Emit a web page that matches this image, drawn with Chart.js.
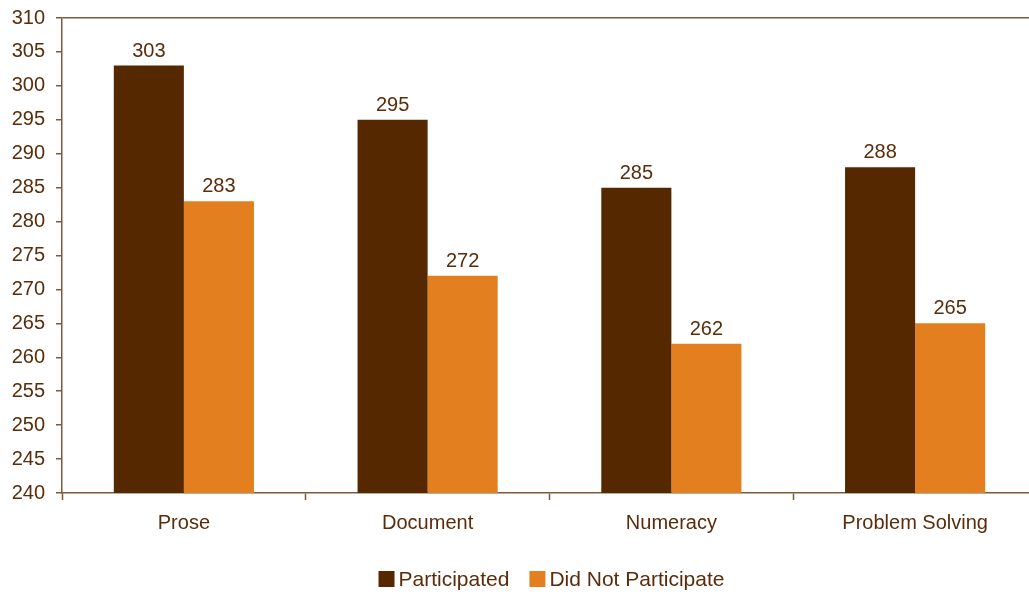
<!DOCTYPE html>
<html lang="en">
<head>
    <meta charset="UTF-8">
    <title>Participation Scores</title>
    <style>
        html, body {
            margin: 0;
            padding: 0;
            background: #fff;
            overflow: hidden;
        }
        .frame {
            width: 1029px;
            height: 595px;
            overflow: hidden;
        }
        /* plot runs a little past the right edge, as in the printed figure */
        .chart-container {
            width: 1037px;
            height: 595px;
            position: relative;
        }
    </style>
    <script src="https://cdn.jsdelivr.net/npm/chart.js"></script>
</head>
<body>
    <div class="frame">
        <div class="chart-container">
            <canvas id="scoreChart"></canvas>
        </div>
    </div>
    <script>
        const categories = ['Prose', 'Document', 'Numeracy', 'Problem Solving'];
        const participated = [303, 295, 285, 288];
        const didNotParticipate = [283, 272, 262, 265];
        const yMin = 240;
        const yMax = 310;
        const yStep = 5;

        const textColor = '#5a2c0a';
        const axisColor = '#7d5a3c';
        const fontFamily = '"Liberation Sans", Arial, sans-serif';

        // writes each bar's value just above it
        const valueLabels = {
            id: 'valueLabels',
            afterDatasetsDraw(chart) {
                const ctx = chart.ctx;
                ctx.save();
                ctx.font = '20px ' + fontFamily;
                ctx.fillStyle = textColor;
                ctx.textAlign = 'center';
                ctx.textBaseline = 'alphabetic';
                chart.data.datasets.forEach((ds, i) => {
                    chart.getDatasetMeta(i).data.forEach((bar, j) => {
                        ctx.fillText(ds.data[j], bar.x, bar.y - 9);
                    });
                });
                ctx.restore();
            }
        };

        // compact legend under the axis, centred on the plot area
        const bottomLegend = {
            id: 'bottomLegend',
            afterDraw(chart) {
                const ctx = chart.ctx;
                const area = chart.chartArea;
                const box = 16, gap = 4, itemGap = 20;
                ctx.save();
                ctx.font = '21px ' + fontFamily;
                ctx.textBaseline = 'middle';
                const items = chart.data.datasets.map(ds => ({
                    label: ds.label,
                    color: ds.backgroundColor,
                    w: box + gap + ctx.measureText(ds.label).width
                }));
                const total = items.reduce((s, it) => s + it.w, 0) + itemGap * (items.length - 1);
                let x = (area.left + area.right) / 2 - total / 2 + 2;
                const y = 579;
                items.forEach(it => {
                    ctx.fillStyle = it.color;
                    ctx.fillRect(x, y - box / 2, box, box);
                    ctx.fillStyle = textColor;
                    ctx.fillText(it.label, x + box + gap, y + 1);
                    x += it.w + itemGap;
                });
                ctx.restore();
            }
        };

        const ctx = document.getElementById('scoreChart').getContext('2d');
        new Chart(ctx, {
            type: 'bar',
            data: {
                labels: categories,
                datasets: [{
                    label: 'Participated',
                    data: participated,
                    backgroundColor: '#562800'
                }, {
                    label: 'Did Not Participate',
                    data: didNotParticipate,
                    backgroundColor: '#e47f20'
                }]
            },
            options: {
                responsive: true,
                maintainAspectRatio: false,
                animation: false,
                layout: {
                    padding: { top: 18, right: 0, bottom: 57, left: 0 }
                },
                datasets: {
                    bar: {
                        categoryPercentage: 0.575,
                        barPercentage: 1.0
                    }
                },
                scales: {
                    x: {
                        grid: {
                            display: true,
                            drawOnChartArea: false,
                            tickLength: 7,
                            tickColor: axisColor,
                            tickWidth: 1.5
                        },
                        border: { color: axisColor, width: 1.5 },
                        ticks: {
                            color: textColor,
                            font: { size: 20, family: fontFamily },
                            padding: 11
                        },
                        afterFit(scale) {
                            scale.height = 45;
                        }
                    },
                    y: {
                        min: yMin,
                        max: yMax,
                        grid: {
                            drawOnChartArea: true,
                            tickLength: 6,
                            tickColor: axisColor,
                            tickWidth: 1.5,
                            lineWidth: 1.5,
                            color: c => (c.tick && c.tick.value === yMax ? axisColor : 'rgba(0,0,0,0)')
                        },
                        border: { color: axisColor, width: 1.5 },
                        ticks: {
                            stepSize: yStep,
                            color: textColor,
                            font: { size: 20, family: fontFamily },
                            padding: 11
                        },
                        afterFit(scale) {
                            scale.width = 62;
                            scale.paddingTop = 0;
                        }
                    }
                },
                plugins: {
                    legend: { display: false },
                    tooltip: { enabled: false }
                }
            },
            plugins: [valueLabels, bottomLegend]
        });
    </script>
</body>
</html>
